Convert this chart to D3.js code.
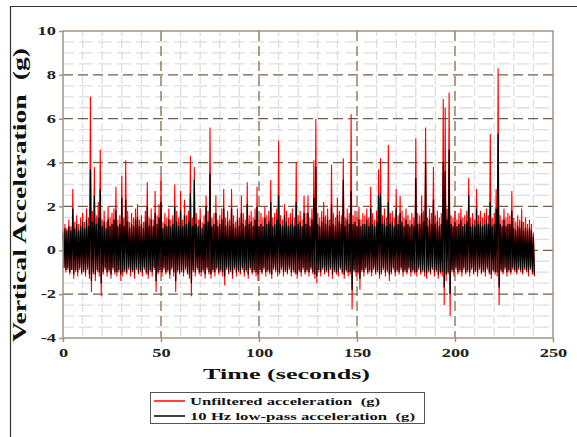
<!DOCTYPE html>
<html><head><meta charset="utf-8">
<script src="https://cdn.jsdelivr.net/npm/d3@7"></script>
<style>
html,body{margin:0;padding:0;background:#fff;}
text{font-family:"Liberation Serif","Times New Roman",serif;font-weight:bold;white-space:pre;}
</style></head>
<body><svg id="c" width="577" height="437"></svg>
<script>
// ---- data (1-second envelope) ----
const xTicks = [0, 50, 100, 150, 200, 250];
const yTicks = [-4, -2, 0, 2, 4, 6, 8, 10];
const legendLabels = ["Unfiltered acceleration  (g)", "10 Hz low-pass acceleration  (g)"];
// unfiltered: per-second high / low extents
const redHigh = [
0.9,1.2,1.0,1.4,1.1,2.8,1.3,1.6,1.2,1.5,
1.7,1.3,1.9,1.5,7.0,1.8,3.8,1.6,2.2,4.6,
1.4,1.8,1.3,2.0,1.5,1.7,1.9,2.9,1.4,1.6,
3.4,1.5,4.1,1.8,1.3,1.7,1.5,1.9,2.1,1.4,
1.6,1.3,1.8,3.1,1.5,1.9,1.4,2.7,1.6,2.1,
3.4,1.3,1.7,1.5,1.9,1.4,1.6,3.0,1.8,1.5,
2.7,1.4,2.3,1.6,1.8,4.3,1.5,3.8,1.7,1.4,
1.9,1.3,1.6,2.5,1.8,5.6,1.5,1.7,2.5,1.4,
1.6,1.9,2.8,1.5,1.8,1.4,2.8,1.6,1.3,1.9,
1.5,2.5,1.7,1.4,3.1,1.6,1.8,1.5,1.9,2.9,
1.4,1.7,1.5,2.0,1.6,1.8,3.2,1.5,1.7,1.9,
5.0,1.6,1.4,2.1,1.8,1.5,1.7,1.9,1.5,4.0,
1.6,1.8,1.4,2.5,1.7,2.5,1.5,1.9,4.1,6.0,
1.7,1.5,1.8,2.2,1.6,1.9,1.4,3.9,1.7,1.5,
2.4,1.8,1.6,4.2,1.5,1.9,1.7,6.2,1.6,1.8,
1.5,2.0,1.4,1.7,1.6,1.9,1.5,2.9,1.7,1.4,
1.8,3.7,4.2,1.6,1.9,1.5,4.8,1.7,1.8,1.5,
2.8,1.6,2.5,1.8,1.5,1.9,1.6,1.4,1.7,1.5,
5.1,1.7,1.6,2.5,1.8,5.6,1.5,1.9,1.7,3.8,
1.6,1.8,1.5,1.7,6.9,6.5,1.9,7.2,1.6,1.5,
1.8,1.4,1.7,1.9,1.5,1.6,1.8,3.3,1.5,1.7,
1.4,2.8,1.6,1.8,1.5,1.7,1.9,1.6,5.3,1.5,
1.7,2.8,8.3,1.6,1.4,1.9,1.5,1.7,1.6,2.7,
1.5,1.3,1.6,1.4,1.9,1.3,1.5,1.2,1.4,1.2,
0.8];
const redLow = [
-0.8,-1.0,-0.9,-1.1,-0.9,-1.3,-1.0,-1.2,-0.9,-1.1,
-1.0,-1.2,-0.9,-1.3,-1.9,-1.1,-1.4,-1.0,-1.2,-2.1,
-1.1,-0.9,-1.2,-1.0,-1.3,-0.9,-1.1,-1.2,-1.0,-1.4,
-1.2,-1.0,-1.1,-0.9,-1.2,-1.0,-1.3,-0.9,-1.1,-1.0,
-1.2,-0.9,-1.1,-1.3,-1.0,-1.2,-0.9,-1.9,-1.1,-1.0,
-1.2,-0.9,-1.1,-1.0,-1.3,-0.9,-1.2,-1.9,-1.0,-1.1,
-1.0,-1.2,-0.9,-1.1,-1.3,-2.1,-1.0,-1.2,-0.9,-1.1,
-1.2,-1.0,-1.3,-0.9,-1.1,-1.3,-1.0,-1.2,-0.9,-1.1,
-1.0,-1.2,-1.6,-0.9,-1.1,-1.0,-1.3,-0.9,-1.2,-1.0,
-1.1,-0.9,-1.2,-1.0,-1.3,-0.9,-1.1,-1.0,-1.2,-1.4,
-1.0,-1.1,-0.9,-1.2,-1.0,-1.1,-1.3,-0.9,-1.0,-1.2,
-1.1,-0.9,-1.2,-1.0,-1.1,-0.9,-1.2,-1.0,-1.1,-1.3,
-1.0,-1.2,-0.9,-1.1,-1.0,-1.2,-0.9,-1.1,-1.3,-1.5,
-1.0,-1.2,-0.9,-1.1,-1.0,-1.2,-0.9,-1.3,-1.0,-1.1,
-1.2,-0.9,-1.1,-1.3,-1.0,-1.2,-1.1,-2.7,-1.0,-1.2,
-1.1,-1.8,-1.0,-1.2,-0.9,-1.1,-1.0,-1.2,-0.9,-1.1,
-1.0,-1.3,-1.1,-0.9,-1.2,-1.0,-1.4,-1.1,-0.9,-1.2,
-1.0,-1.1,-0.9,-1.2,-1.0,-1.1,-0.9,-1.2,-1.0,-1.1,
-1.2,-0.9,-1.1,-1.0,-1.2,-1.3,-1.0,-1.1,-0.9,-1.2,
-1.0,-1.3,-1.1,-1.2,-2.5,-1.4,-1.1,-3.0,-1.0,-1.2,
-0.9,-1.1,-1.0,-1.2,-0.9,-1.1,-1.0,-1.2,-0.9,-1.1,
-1.0,-1.2,-0.9,-1.1,-1.0,-1.2,-0.9,-1.1,-1.3,-1.0,
-1.1,-1.2,-2.5,-1.0,-1.1,-0.9,-1.2,-1.0,-1.1,-0.9,
-1.0,-1.1,-0.9,-1.0,-1.1,-0.9,-1.0,-1.2,-0.9,-1.1,
-1.2];
// 10 Hz low-pass: per-second high / low extents
const blackHigh = [
0.8,1.0,0.9,1.1,0.9,1.9,1.0,1.2,0.9,1.1,
1.3,1.0,1.4,1.1,3.7,1.3,2.5,1.2,1.5,2.8,
1.1,1.3,1.0,1.4,1.1,1.2,1.4,1.8,1.1,1.2,
2.4,1.1,2.3,1.3,1.0,1.2,1.1,1.4,1.5,1.1,
1.2,1.0,1.3,2.0,1.1,1.4,1.1,1.7,1.2,1.5,
2.2,1.0,1.2,1.1,1.4,1.1,1.2,2.0,1.3,1.1,
1.8,1.1,1.6,1.2,1.3,2.6,1.1,3.2,1.2,1.1,
1.4,1.0,1.2,2.0,1.3,3.5,1.1,1.2,1.7,1.1,
1.2,1.4,1.9,1.1,1.3,1.1,1.9,1.2,1.0,1.4,
1.1,1.7,1.2,1.1,2.1,1.2,1.3,1.1,1.4,2.0,
1.1,1.2,1.1,1.5,1.2,1.3,2.2,1.1,1.2,1.4,
2.5,1.2,1.1,1.6,1.3,1.1,1.2,1.4,1.1,2.2,
1.2,1.3,1.1,1.7,1.2,1.7,1.1,1.4,2.4,3.8,
1.2,1.1,1.3,1.5,1.2,1.4,1.1,2.1,1.2,1.1,
1.6,1.3,1.2,3.2,1.1,1.4,1.2,2.7,1.2,1.3,
1.1,1.4,1.1,1.2,1.2,1.4,1.1,1.9,1.2,1.1,
1.3,2.5,2.6,1.2,1.4,1.1,2.2,1.2,1.3,1.1,
1.9,1.2,1.7,1.3,1.1,1.4,1.2,1.1,1.2,1.1,
3.3,1.2,1.2,1.7,1.3,4.0,1.1,1.4,1.2,2.3,
1.2,1.3,1.1,1.2,4.0,3.6,1.4,4.6,1.2,1.1,
1.3,1.1,1.2,1.4,1.1,1.2,1.3,2.5,1.1,1.2,
1.1,1.9,1.2,1.3,1.1,1.2,1.4,1.2,2.2,1.1,
1.2,1.9,5.3,1.2,1.1,1.4,1.1,1.2,1.2,1.8,
1.0,0.9,1.1,1.0,1.3,0.9,1.0,0.9,1.0,0.9,
0.6];
const blackLow = [
-0.8,-0.9,-0.8,-1.0,-0.9,-1.1,-0.9,-1.0,-0.8,-1.0,
-0.9,-1.0,-0.8,-1.1,-1.4,-1.0,-1.1,-0.9,-1.0,-1.5,
-1.0,-0.8,-1.0,-0.9,-1.1,-0.8,-1.0,-1.0,-0.9,-1.1,
-1.0,-0.9,-1.0,-0.8,-1.0,-0.9,-1.1,-0.8,-1.0,-0.9,
-1.0,-0.8,-1.0,-1.1,-0.9,-1.0,-0.8,-1.4,-1.0,-0.9,
-1.0,-0.8,-1.0,-0.9,-1.1,-0.8,-1.0,-1.4,-0.9,-1.0,
-0.9,-1.0,-0.8,-1.0,-1.1,-1.5,-0.9,-1.0,-0.8,-1.0,
-1.0,-0.9,-1.1,-0.8,-1.0,-1.1,-0.9,-1.0,-0.8,-1.0,
-0.9,-1.0,-1.2,-0.8,-1.0,-0.9,-1.1,-0.8,-1.0,-0.9,
-1.0,-0.8,-1.0,-0.9,-1.1,-0.8,-1.0,-0.9,-1.0,-1.1,
-0.9,-1.0,-0.8,-1.0,-0.9,-1.0,-1.1,-0.8,-0.9,-1.0,
-1.0,-0.8,-1.0,-0.9,-1.0,-0.8,-1.0,-0.9,-1.0,-1.1,
-0.9,-1.0,-0.8,-1.0,-0.9,-1.0,-0.8,-1.0,-1.1,-1.2,
-0.9,-1.0,-0.8,-1.0,-0.9,-1.0,-0.8,-1.1,-0.9,-1.0,
-1.0,-0.8,-1.0,-1.1,-0.9,-1.0,-1.0,-1.8,-0.9,-1.0,
-1.0,-1.3,-0.9,-1.0,-0.8,-1.0,-0.9,-1.0,-0.8,-1.0,
-0.9,-1.1,-1.0,-0.8,-1.0,-0.9,-1.1,-1.0,-0.8,-1.0,
-0.9,-1.0,-0.8,-1.0,-0.9,-1.0,-0.8,-1.0,-0.9,-1.0,
-1.0,-0.8,-1.0,-0.9,-1.0,-1.1,-0.9,-1.0,-0.8,-1.0,
-0.9,-1.1,-1.0,-1.0,-1.7,-1.1,-1.0,-2.0,-0.9,-1.0,
-0.8,-1.0,-0.9,-1.0,-0.8,-1.0,-0.9,-1.0,-0.8,-1.0,
-0.9,-1.0,-0.8,-1.0,-0.9,-1.0,-0.8,-1.0,-1.1,-0.9,
-1.0,-1.0,-1.7,-0.9,-1.0,-0.8,-1.0,-0.9,-1.0,-0.8,
-0.9,-1.0,-0.8,-0.9,-1.0,-0.8,-0.9,-1.0,-0.8,-1.0,
-1.1];

// ---- drawing ----
const svg = d3.select("#c");
const x = d3.scaleLinear([0, 250], [63, 553]);
const y = d3.scaleLinear([-4, 10], [338, 31]);
const frameCol = "#a39382", majorCol = "#76603f", minorCol = "#dedede";

// outer frame of the figure
svg.append("line").attr("x1", 10).attr("x2", 577).attr("y1", 6.5).attr("y2", 6.5).attr("stroke", "#333").attr("stroke-width", 1.2);
svg.append("line").attr("x1", 10.5).attr("x2", 10.5).attr("y1", 6).attr("y2", 437).attr("stroke", "#333").attr("stroke-width", 1.2);

// minor grid
const minorX = d3.range(0, 251, 10).filter(v => v % 50 !== 0);
const minorY = d3.range(-4, 10.01, 0.5).filter(v => Math.abs(v % 2) > 0.01);
const g = svg.append("g");
g.selectAll(".mx").data(minorX).join("line")
  .attr("x1", d => x(d)).attr("x2", d => x(d)).attr("y1", y(10)).attr("y2", y(-4))
  .attr("stroke", minorCol).attr("stroke-width", 1.3).attr("stroke-dasharray", "9,3").attr("stroke-dashoffset", 4);
g.selectAll(".my").data(minorY).join("line")
  .attr("x1", x(0)).attr("x2", x(250)).attr("y1", d => y(d)).attr("y2", d => y(d))
  .attr("stroke", minorCol).attr("stroke-width", 1.3).attr("stroke-dasharray", "14,5").attr("stroke-dashoffset", 3);
// major grid
g.selectAll(".Mx").data(xTicks.slice(1, -1)).join("line")
  .attr("x1", d => x(d)).attr("x2", d => x(d)).attr("y1", y(10)).attr("y2", y(-4))
  .attr("stroke", majorCol).attr("stroke-width", 1.2).attr("stroke-dasharray", "10,5");
g.selectAll(".My").data(yTicks.slice(1, -1)).join("line")
  .attr("x1", x(0)).attr("x2", x(250)).attr("y1", d => y(d)).attr("y2", d => y(d))
  .attr("stroke", majorCol).attr("stroke-width", 1.2).attr("stroke-dasharray", "10,5");

// series as zigzag envelopes
function zig(hi, lo) {
  const pts = [];
  hi.forEach((h, i) => { pts.push([i, h]); pts.push([i + 0.5, lo[i]]); });
  return pts;
}
const line = d3.line().x(d => x(d[0])).y(d => y(d[1]));
svg.append("path").datum(zig(redHigh, redLow)).attr("d", line)
  .attr("fill", "none").attr("stroke", "#ff0000").attr("stroke-width", 1.1);
svg.append("path").datum(zig(blackHigh, blackLow)).attr("d", line)
  .attr("fill", "none").attr("stroke", "#000").attr("stroke-width", 1.2);

// plot frame
svg.append("rect").attr("x", x(0)).attr("y", y(10)).attr("width", x(250) - x(0)).attr("height", y(-4) - y(10))
  .attr("fill", "none").attr("stroke", frameCol).attr("stroke-width", 1.5);

// axes
function stretch(sel, f) {
  sel.each(function () {
    const n = this.getComputedTextLength();
    this.setAttribute("textLength", f(n));
    this.setAttribute("lengthAdjust", "spacingAndGlyphs");
  });
}
const ax = svg.append("g").attr("transform", `translate(0,${y(-4)})`)
  .call(d3.axisBottom(x).tickValues(xTicks).tickSize(4).tickPadding(7).tickFormat(d3.format("d")));
const ay = svg.append("g").attr("transform", `translate(${x(0)},0)`)
  .call(d3.axisLeft(y).tickValues(yTicks).tickSize(4).tickPadding(3).tickFormat(d => d < 0 ? "-" + Math.abs(d) : d));
[ax, ay].forEach(a => {
  a.select(".domain").remove();
  a.selectAll("line").attr("stroke", frameCol).attr("stroke-width", 1.5);
  a.selectAll("text").attr("font-family", '"Liberation Serif", serif').attr("font-weight", "bold")
    .attr("font-size", 11.5).attr("fill", "#222");
});
stretch(ax.selectAll("text"), n => n * 1.6);
stretch(ay.selectAll("text"), n => n * 1.6);

// titles
const xt = svg.append("text").attr("x", 286.5).attr("y", 379).attr("text-anchor", "middle")
  .attr("font-size", 15.5).attr("fill", "#111").text("Time (seconds)");
stretch(xt, n => 167);
const yt = svg.append("text").attr("transform", "translate(26,195) rotate(-90)").attr("text-anchor", "middle")
  .attr("font-size", 18).attr("fill", "#111").text("Vertical Acceleration  (g)");
stretch(yt, n => 294);

// legend
svg.append("rect").attr("x", 150.5).attr("y", 392.5).attr("width", 274).attr("height", 31)
  .attr("fill", "#fff").attr("stroke", "#555").attr("stroke-width", 1);
const lg = svg.append("g");
const legCols = ["#ff0000", "#000"];
const legLens = [190, 225];
legendLabels.forEach((lab, i) => {
  const yy = 401 + i * 15;
  lg.append("line").attr("x1", 154).attr("x2", 185).attr("y1", yy).attr("y2", yy)
    .attr("stroke", legCols[i]).attr("stroke-width", 1.5);
  const t = lg.append("text").attr("x", 190).attr("y", yy + 3.5).attr("font-size", 11)
    .attr("fill", "#111").text(lab);
  stretch(t, n => legLens[i]);
});
</script></body></html>
